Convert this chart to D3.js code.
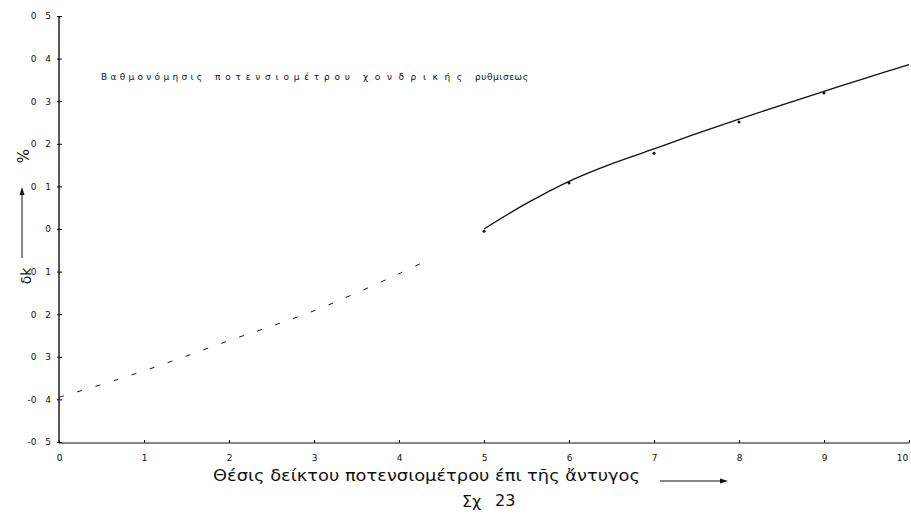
<!DOCTYPE html>
<html><head><meta charset="utf-8">
<script src="https://cdn.jsdelivr.net/npm/d3@7"></script>
<style>body{margin:0;background:#fff}svg{display:block}</style>
</head><body>
<svg id="c" width="911" height="516"></svg>
<script>
// Data
const xTicks = [0,1,2,3,4,5,6,7,8,9,10];
const yTicks = [0.5,0.4,0.3,0.2,0.1,0,-0.1,-0.2,-0.3,-0.4,-0.5];
const yTickLabels = ["0 5","0 4","0 3","0 2","0 1","0","0 1","0 2","0 3","-0 4","-0 5"];
const solidX = [5,5.5,6,6.5,7,7.5,8,8.5,9,9.5,10];
const solidY = [0,0.060,0.112,0.153,0.188,0.224,0.258,0.291,0.323,0.355,0.386];
const dashX = [0,0.5,1,1.5,2,2.5,3,3.5,4,4.35];
const dashY = [-0.395,-0.365,-0.333,-0.298,-0.262,-0.228,-0.192,-0.150,-0.105,-0.072];
const pointX = [5,6,7,8,9];
const pointY = [-0.005,0.108,0.178,0.251,0.319];
const titleWords = ["Βαθμονόμησις","ποτενσιομέτρου","χονδρικής","ρυθμισεως"];
const xLabel = "Θέσις δείκτου ποτενσιομέτρου έπι τῆς ἄντυγος";
const figLabel = ["Σχ","23"];

const svg = d3.select("#c");
const x = d3.scaleLinear().domain([0,10]).range([59,909]);
const y = d3.scaleLinear().domain([-0.5,0.5]).range([442,16]);
const ink = "#111";

// axes
const ya = svg.append("g").attr("transform","translate(59,0)")
  .call(d3.axisLeft(y).tickValues(yTicks).tickSize(3).tickPadding(5)
    .tickFormat((d,i)=>yTickLabels[i]));
ya.select(".domain").attr("stroke",ink).attr("stroke-width",1.4).attr("d","M0,16V442");
ya.selectAll(".tick line").attr("stroke",ink).attr("x2",3).attr("x1",-2);
ya.selectAll(".tick text").attr("font-family","DejaVu Sans").attr("font-size",9)
  .attr("fill",ink).style("word-spacing","6px");

const xa = svg.append("g").attr("transform","translate(0,443)")
  .call(d3.axisBottom(x).tickValues(xTicks).tickSize(-3).tickPadding(12).tickFormat(d3.format("d")));
xa.select(".domain").attr("stroke",ink).attr("stroke-width",1.2).attr("d","M59,0H909");
xa.selectAll(".tick line").attr("stroke",ink);
xa.selectAll(".tick text").attr("font-family","DejaVu Sans").attr("font-size",9).attr("fill",ink)
  .attr("dx",d=>d===10?-7:0);

// curves
const line = d3.line().x(d=>x(d[0])).y(d=>y(d[1])).curve(d3.curveCatmullRom);
svg.append("path").datum(solidX.map((v,i)=>[v,solidY[i]]))
  .attr("d",line).attr("fill","none").attr("stroke",ink).attr("stroke-width",1.3);
svg.append("path").datum(dashX.map((v,i)=>[v,dashY[i]]))
  .attr("d",line).attr("fill","none").attr("stroke",ink).attr("stroke-width",1)
  .attr("stroke-dasharray","5,14");
svg.selectAll("circle.pt").data(pointX.map((v,i)=>[v,pointY[i]])).join("circle")
  .attr("cx",d=>x(d[0])).attr("cy",d=>y(d[1])).attr("r",1.5).attr("fill",ink);

// title words
const tw = [[101,101],[215,135],[363,99],[475,53]];
titleWords.forEach((w,i)=>{
  svg.append("text").attr("x",tw[i][0]).attr("y",80).attr("font-family","DejaVu Sans")
    .attr("font-size",9).attr("fill",ink).attr("textLength",tw[i][1])
    .attr("lengthAdjust","spacing").text(w);
});

// y label
svg.append("text").attr("transform","translate(31,276) rotate(-90)")
  .attr("text-anchor","middle").attr("font-family","DejaVu Sans").attr("font-size",14)
  .attr("fill",ink).text("δk");
svg.append("text").attr("transform","translate(29,156) rotate(-90)")
  .attr("text-anchor","middle").attr("font-family","DejaVu Sans").attr("font-size",15)
  .attr("fill",ink).text("%");
svg.append("line").attr("x1",22).attr("x2",22).attr("y1",258).attr("y2",192)
  .attr("stroke",ink).attr("stroke-width",1);
svg.append("path").attr("d","M22,187L19.5,195L24.5,195Z").attr("fill",ink);

// x label
svg.append("text").attr("x",213).attr("y",481).attr("font-family","DejaVu Sans")
  .attr("font-size",16).attr("fill",ink).attr("textLength",427)
  .attr("lengthAdjust","spacingAndGlyphs").text(xLabel);
svg.append("line").attr("x1",660).attr("x2",722).attr("y1",481).attr("y2",481)
  .attr("stroke",ink).attr("stroke-width",1.2);
svg.append("path").attr("d","M728,481L720,478.5L720,483.5Z").attr("fill",ink);
svg.append("text").attr("x",462).attr("y",507).attr("font-family","DejaVu Sans")
  .attr("font-size",16).attr("fill",ink).text(figLabel[0]);
svg.append("text").attr("x",495).attr("y",506).attr("font-family","DejaVu Sans")
  .attr("font-size",16).attr("fill",ink).text(figLabel[1]);
</script>
</body></html>
